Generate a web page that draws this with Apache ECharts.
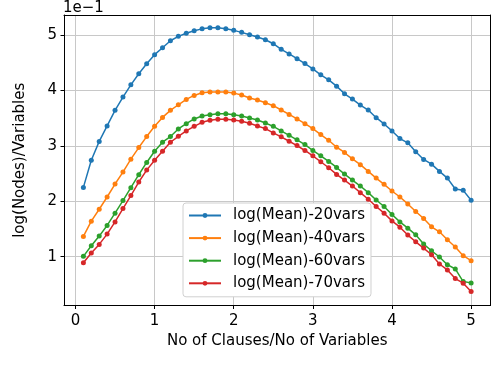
<!DOCTYPE html>
<html>
<head>
<meta charset="utf-8">
<script src="https://cdn.jsdelivr.net/npm/echarts@6/dist/echarts.min.js"></script>
<style>
  html, body { margin: 0; padding: 0; background: #fff; }
  #main { width: 492px; height: 380px; }
</style>
</head>
<body>
<div id="main"></div>
<script>
// x: clauses / variables ratio, 0.1 .. 5.0
const ratios = [0.1, 0.2, 0.3, 0.4, 0.5, 0.6, 0.7, 0.8, 0.9, 1.0,
  1.1, 1.2, 1.3, 1.4, 1.5, 1.6, 1.7, 1.8, 1.9, 2.0,
  2.1, 2.2, 2.3, 2.4, 2.5, 2.6, 2.7, 2.8, 2.9, 3.0,
  3.1, 3.2, 3.3, 3.4, 3.5, 3.6, 3.7, 3.8, 3.9, 4.0,
  4.1, 4.2, 4.3, 4.4, 4.5, 4.6, 4.7, 4.8, 4.9, 5.0]

// values in units of 1e-1
const vars20 = [2.25, 2.74, 3.08, 3.36, 3.64, 3.88, 4.10, 4.30, 4.48, 4.645,
  4.77, 4.895, 4.975, 5.03, 5.075, 5.11, 5.13, 5.13, 5.11, 5.083,
  5.047, 5.004, 4.962, 4.914, 4.842, 4.741, 4.657, 4.573, 4.483, 4.388,
  4.28, 4.19, 4.077, 3.939, 3.844, 3.736, 3.646, 3.508, 3.395, 3.269,
  3.131, 3.054, 2.892, 2.754, 2.67, 2.539, 2.418, 2.221, 2.197, 2.018]
const vars40 = [1.366, 1.641, 1.856, 2.077, 2.311, 2.526, 2.759, 2.969, 3.167, 3.352,
  3.513, 3.64, 3.741, 3.837, 3.909, 3.957, 3.969, 3.969, 3.969, 3.951,
  3.916, 3.862, 3.826, 3.777, 3.724, 3.646, 3.567, 3.485, 3.40, 3.311,
  3.203, 3.10, 2.975, 2.88, 2.765, 2.66, 2.539, 2.418, 2.305, 2.185,
  2.077, 1.952, 1.815, 1.689, 1.539, 1.449, 1.305, 1.174, 1.018, 0.928]
const vars60 = [1.007, 1.197, 1.372, 1.564, 1.785, 2.013, 2.246, 2.479, 2.70, 2.903,
  3.065, 3.167, 3.305, 3.40, 3.485, 3.539, 3.562, 3.58, 3.58, 3.562,
  3.539, 3.503, 3.467, 3.413, 3.352, 3.269, 3.19, 3.108, 3.023, 2.916,
  2.82, 2.718, 2.61, 2.49, 2.382, 2.275, 2.156, 2.023, 1.905, 1.761,
  1.628, 1.515, 1.395, 1.228, 1.108, 0.995, 0.856, 0.779, 0.551, 0.528]
const vars70 = [0.892, 1.066, 1.222, 1.408, 1.628, 1.869, 2.102, 2.347, 2.562, 2.741,
  2.903, 3.065, 3.172, 3.269, 3.352, 3.424, 3.46, 3.478, 3.478, 3.467,
  3.442, 3.406, 3.359, 3.311, 3.233, 3.162, 3.083, 3.005, 2.916, 2.82,
  2.713, 2.605, 2.485, 2.382, 2.275, 2.156, 2.036, 1.905, 1.785, 1.646,
  1.533, 1.39, 1.269, 1.156, 1.036, 0.869, 0.761, 0.605, 0.522, 0.372]

const seriesNames = ['log(Mean)-20vars', 'log(Mean)-40vars', 'log(Mean)-60vars', 'log(Mean)-70vars']
const seriesData = [vars20, vars40, vars60, vars70]
const colors = ['#1f77b4', '#ff7f0e', '#2ca02c', '#d62728']
const xTicks = [0, 1, 2, 3, 4, 5]
const yTicks = [1, 2, 3, 4, 5]

const font = 'DejaVu Sans'
const chart = echarts.init(document.getElementById('main'))

// top / right spines only
const frameAxis = {
  axisLine: { show: true, onZero: false, lineStyle: { color: '#000', width: 1 } },
  axisTick: { show: false },
  axisLabel: { show: false },
  splitLine: { show: false },
  z: 5
}

const option = {
  animation: false,
  color: colors,
  grid: { left: 64, right: 1.5, top: 15, bottom: 74.5 },
  graphic: [{
    type: 'text',
    left: 63,
    top: 1,
    style: { text: '1e\u22121', font: '15px "DejaVu Sans"', fill: '#000' }
  }],
  legend: {
    orient: 'vertical',
    left: 183,
    top: 203,
    padding: [5, 6, 6, 5],
    itemWidth: 32,
    itemHeight: 6,
    itemGap: 7.6,
    backgroundColor: '#fff',
    borderColor: '#d0d0d0',
    borderWidth: 1,
    borderRadius: 3,
    textStyle: { fontFamily: font, fontSize: 15, lineHeight: 15, color: '#000', padding: [0, 0, 0, 7] },
    data: seriesNames
  },
  xAxis: [{
    type: 'value',
    min: -0.145,
    max: 5.245,
    name: 'No of Clauses/No of Variables',
    nameLocation: 'middle',
    nameGap: 24,
    nameTextStyle: { fontFamily: font, fontSize: 15, color: '#000' },
    axisLine: { show: true, onZero: false, lineStyle: { color: '#000', width: 1 } },
    axisTick: { show: true, length: 3.5, customValues: xTicks, lineStyle: { color: '#000' } },
    axisLabel: { customValues: xTicks, margin: 8, fontFamily: font, fontSize: 15, color: '#000' },
    splitLine: { show: true, lineStyle: { color: '#c8c8c8', width: 1 } }
  }, Object.assign({ type: 'value', position: 'top', min: -0.145, max: 5.245 }, frameAxis)],
  yAxis: [{
    type: 'value',
    min: 0.12,
    max: 5.36,
    name: 'log(Nodes)/Variables',
    nameLocation: 'middle',
    nameGap: 36,
    nameTextStyle: { fontFamily: font, fontSize: 15, color: '#000' },
    axisLine: { show: true, onZero: false, lineStyle: { color: '#000', width: 1 } },
    axisTick: { show: true, length: 3.5, customValues: yTicks, lineStyle: { color: '#000' } },
    axisLabel: { customValues: yTicks, margin: 7, fontFamily: font, fontSize: 15, color: '#000' },
    splitLine: { show: true, lineStyle: { color: '#c8c8c8', width: 1 } }
  }, Object.assign({ type: 'value', position: 'right', min: 0.12, max: 5.36 }, frameAxis)],
  series: seriesNames.map((name, i) => ({
    name: name,
    type: 'line',
    data: ratios.map((r, j) => [r, seriesData[i][j]]),
    symbol: 'circle',
    symbolSize: 5,
    showSymbol: true,
    lineStyle: { width: 1.5 },
    z: 3 + i
  }))
}

chart.setOption(option)
</script>
</body>
</html>
